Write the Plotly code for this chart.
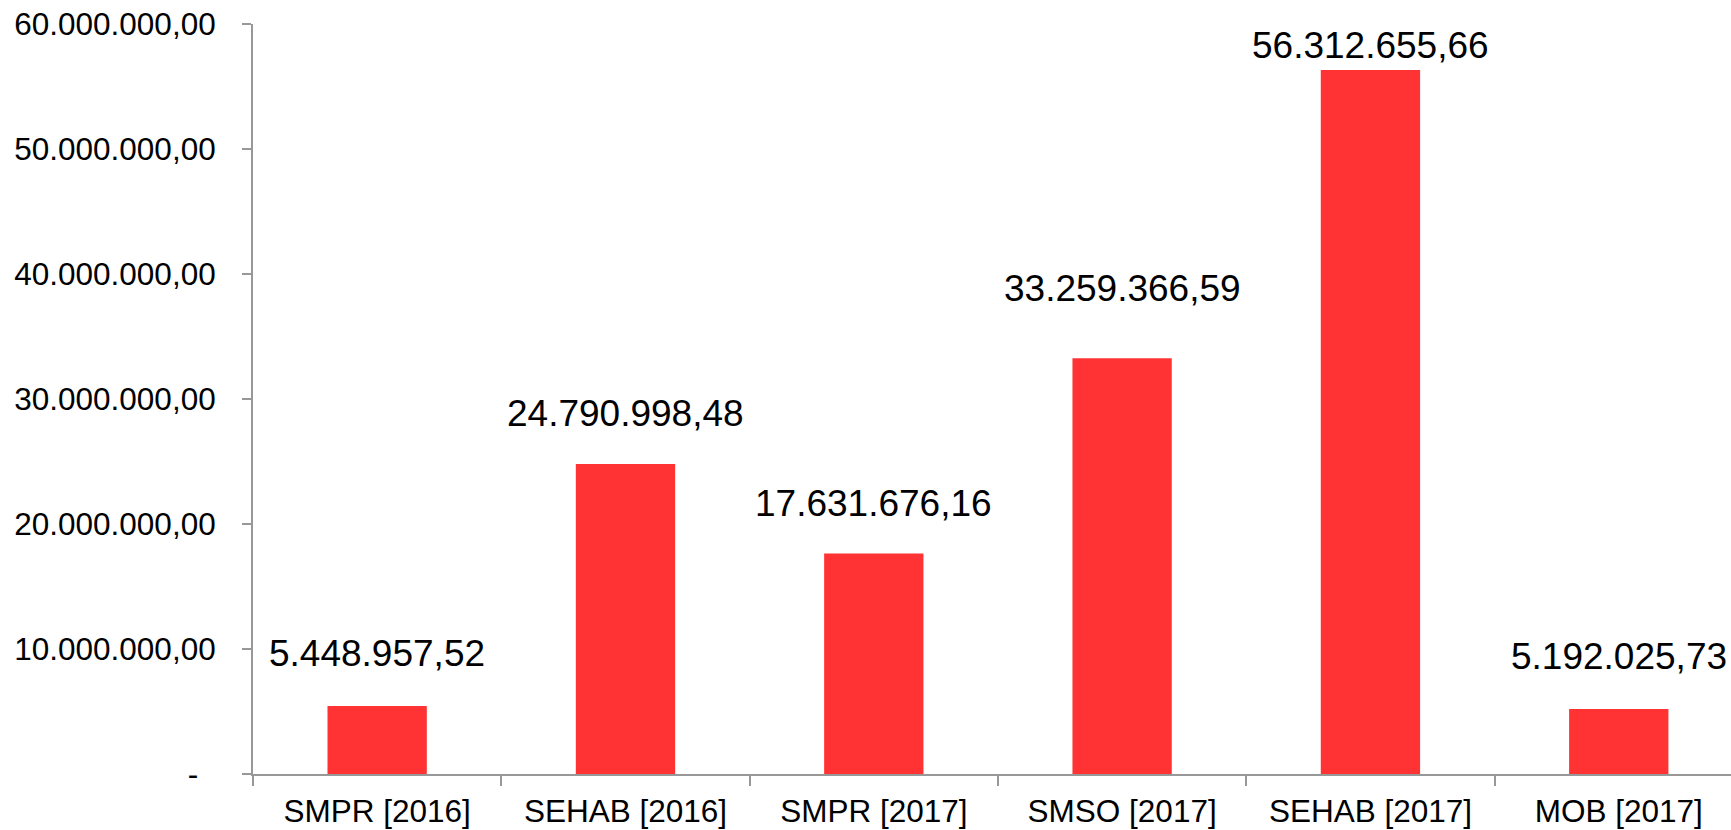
import plotly.graph_objects as go

CATEGORIES = ["SMPR [2016]", "SEHAB [2016]", "SMPR [2017]", "SMSO [2017]", "SEHAB [2017]", "MOB [2017]"]
VALUES = [5448957.52, 24790998.48, 17631676.16, 33259366.59, 56312655.66, 5192025.73]
Y_TICKS = [0, 10000000, 20000000, 30000000, 40000000, 50000000, 60000000]

FONT = 'Liberation Sans, Arial, sans-serif'
BAR_COLOR = '#ff3333'
AXIS_COLOR = '#989898'
# pixel gap between bar top and its value label, as placed in the original
LABEL_GAP = [52, 51, 50, 70, 25, 53]


def br_number(v):
    s = f"{v:,.2f}"
    return s.replace(",", "X").replace(".", ",").replace("X", ".")


tick_text = [br_number(v) if v else "-\u00a0\u00a0" for v in Y_TICKS]

fig = go.Figure(go.Bar(
    x=CATEGORIES,
    y=VALUES,
    width=0.4,
    marker=dict(color=BAR_COLOR, line=dict(width=0)),
    hoverinfo='skip',
))

for cat, val, gap in zip(CATEGORIES, VALUES, LABEL_GAP):
    fig.add_annotation(
        x=cat, y=val, text=br_number(val),
        showarrow=False, yshift=gap, yanchor='middle', xanchor='center',
        font=dict(family=FONT, size=37, color='#000000'),
    )

fig.update_layout(
    width=1731, height=830,
    margin=dict(l=253, r=0, t=24, b=56),
    paper_bgcolor='white',
    plot_bgcolor='white',
    font=dict(family=FONT, size=31.5, color='#000000'),
    showlegend=False,
    xaxis=dict(
        range=[-0.5, 5.452],
        automargin=False,
        showline=True, linecolor=AXIS_COLOR, linewidth=2,
        ticks='outside', tickson='boundaries', ticklen=10, tickwidth=2, tickcolor=AXIS_COLOR,
        ticklabelstandoff=8,
        showgrid=False, zeroline=False,
        tickfont=dict(family=FONT, size=31.5),
    ),
    yaxis=dict(
        range=[0, 60000000],
        automargin=False,
        tickvals=Y_TICKS, ticktext=tick_text,
        showline=True, linecolor=AXIS_COLOR, linewidth=2,
        ticks='outside', ticklen=9, tickwidth=2, tickcolor=AXIS_COLOR,
        ticklabelstandoff=20,
        showgrid=False, zeroline=False,
        tickfont=dict(family=FONT, size=31.5),
    ),
)

fig.write_html("out.html", config={'displayModeBar': False},
               post_script="document.body.style.margin='0';")
